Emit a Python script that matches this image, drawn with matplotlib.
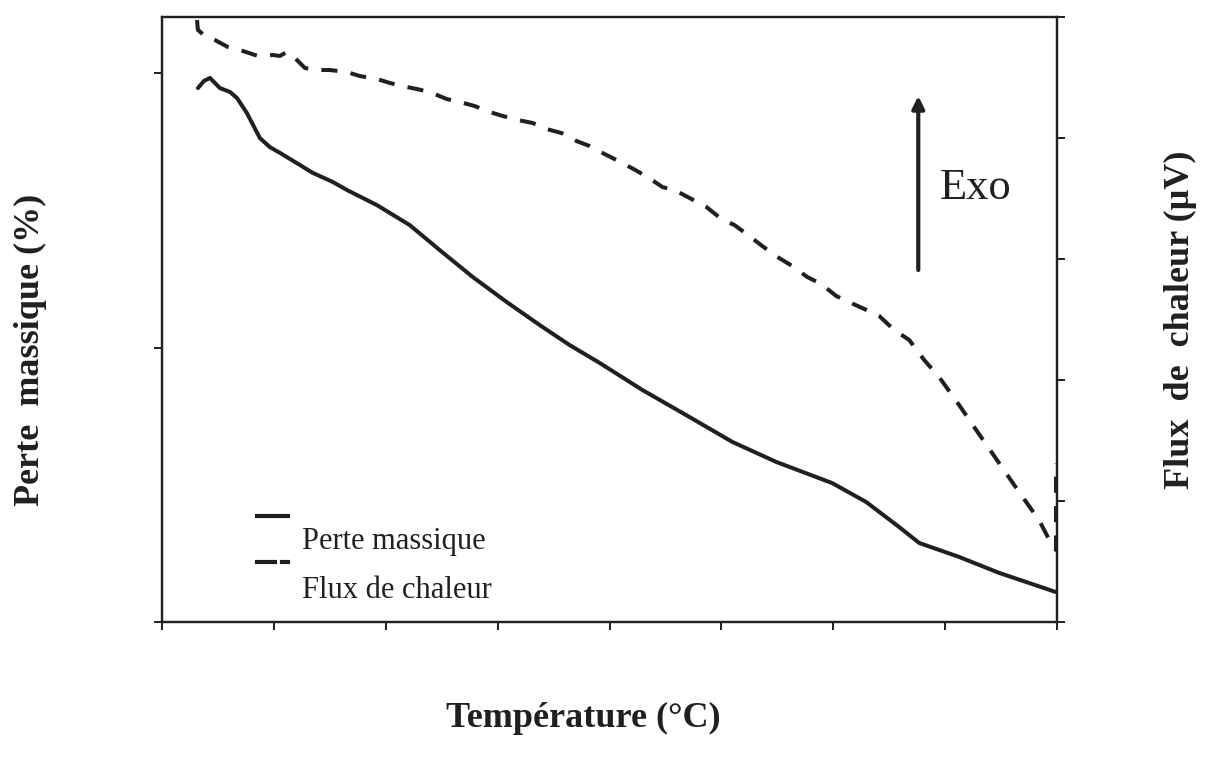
import numpy as np
import matplotlib
matplotlib.use("Agg")
import matplotlib.pyplot as plt

# data (arbitrary units, no tick labels on the original)
temp_mass = [32.1, 37.5, 42.9, 51.8, 60.7, 67.0, 75.9, 87.5, 96.4, 105.4, 123.2, 134.8,
             152.7, 165.2, 192.0, 221.4, 248.2, 277.7, 308.0, 337.5, 364.3, 391.1, 429.5,
             471.4, 509.8, 549.1, 599.1, 629.5, 658.9, 676.8, 712.5, 748.2, 799.1]
mass = [1.945, 1.971, 1.982, 1.945, 1.931, 1.909, 1.854, 1.763, 1.730, 1.709, 1.665, 1.636,
        1.603, 1.574, 1.519, 1.446, 1.355, 1.257, 1.166, 1.082, 1.009, 0.944, 0.845,
        0.747, 0.656, 0.583, 0.506, 0.437, 0.346, 0.288, 0.237, 0.179, 0.109]

temp_flux = [31.3, 32.1, 38.4, 47.3, 58.9, 72.3, 85.7, 99.1, 105.4, 111.6, 118.8, 127.7,
             136.6, 150.0, 165.2, 176.8, 192.0, 203.6, 214.3, 227.7, 239.3, 254.5, 266.1,
             279.5, 292.9, 304.5, 317.9, 331.3, 343.8, 357.1, 370.5, 382.1, 395.5, 408.0,
             421.4, 433.9, 447.3, 459.8, 473.2, 486.6, 500.0, 511.6, 525.0, 536.6, 550.0,
             563.4, 576.8, 589.3, 602.7, 616.1, 627.7, 641.1, 654.5, 667.9, 681.3, 694.6,
             712.5, 725.9, 748.2, 766.1, 783.9, 795.5, 799.1, 799.1]
flux = [4.975, 4.893, 4.843, 4.810, 4.752, 4.719, 4.678, 4.686, 4.678, 4.711, 4.661, 4.579,
        4.562, 4.562, 4.545, 4.512, 4.488, 4.455, 4.430, 4.405, 4.380, 4.322, 4.298,
        4.264, 4.215, 4.182, 4.149, 4.124, 4.074, 4.041, 3.975, 3.934, 3.868, 3.810,
        3.744, 3.678, 3.595, 3.562, 3.496, 3.430, 3.331, 3.281, 3.190, 3.107, 3.017,
        2.942, 2.851, 2.793, 2.694, 2.636, 2.587, 2.529, 2.413, 2.331, 2.165, 2.025,
        1.793, 1.612, 1.314, 1.074, 0.843, 0.636, 0.595, 1.314]

x_ticks = [0, 100, 200, 300, 400, 500, 600, 700, 800]
left_ticks = [0, 1, 2]
right_ticks = [0, 1, 2, 3, 4, 5]

ink = "#231f20"
plt.rcParams["font.family"] = ["Liberation Serif", "DejaVu Serif"]

fig = plt.figure(figsize=(12.06, 7.64), dpi=100)
ax = fig.add_axes([162 / 1206, 1 - 622 / 764, (1057 - 162) / 1206, (622 - 17) / 764])
ax2 = ax.twinx()

ax.plot(temp_mass, mass, color=ink, lw=2.9, solid_capstyle="round", solid_joinstyle="round")
ax2.plot(temp_flux, flux, color=ink, lw=2.9, dashes=(4.0, 3.3), dash_capstyle="butt")

ax.set_xlim(0, 800)
ax.set_ylim(0, 605 / 274.5)
ax2.set_ylim(0, 5)

ax.set_xticks(x_ticks)
ax.set_yticks(left_ticks)
ax2.set_yticks(right_ticks)
ax.set_xticklabels([])
ax.set_yticklabels([])
ax2.set_yticklabels([])

for a in (ax, ax2):
    for s in a.spines.values():
        s.set_color(ink)
        s.set_linewidth(1.6)
    a.tick_params(length=6, width=1.4, color=ink)
ax2.tick_params(axis="y", right=True, left=False)

# legend drawn by hand, as in the original
ax.plot([85, 113], [0.386, 0.386], color=ink, lw=3.0, clip_on=False)
ax.plot([85, 101], [0.218, 0.218], color=ink, lw=3.0, clip_on=False)
ax.plot([107, 113], [0.218, 0.218], color=ink, lw=3.0, clip_on=False)
fig.text(302 / 1206, 1 - 542 / 764, "Perte massique", fontsize=22, va="center", ha="left", color=ink)
fig.text(302 / 1206, 1 - 590 / 764, "Flux de chaleur", fontsize=22, va="center", ha="left", color=ink)

# Exo arrow
ax2.annotate("", xy=(676, (622 - 96) / 121), xytext=(676, (622 - 270) / 121),
             arrowprops=dict(arrowstyle="-|>", color=ink, lw=3, mutation_scale=18,
                             shrinkA=0, shrinkB=0))
fig.text(940 / 1206, 1 - 188 / 764, "Exo", fontsize=32, va="center", ha="left", color=ink)

fig.text(583 / 1206, 1 - 718 / 764, "Température (°C)", fontsize=26, fontweight="bold",
         ha="center", va="center", color=ink)
fig.text(30 / 1206, 1 - 350 / 764, "Perte  massique (%)", fontsize=26, fontweight="bold",
         rotation=90, ha="center", va="center", color=ink)
fig.text(1180 / 1206, 1 - 320 / 764, "Flux  de  chaleur (µV)", fontsize=26, fontweight="bold",
         rotation=90, ha="center", va="center", color=ink)

fig.savefig("out.png", dpi=100, facecolor="white")
